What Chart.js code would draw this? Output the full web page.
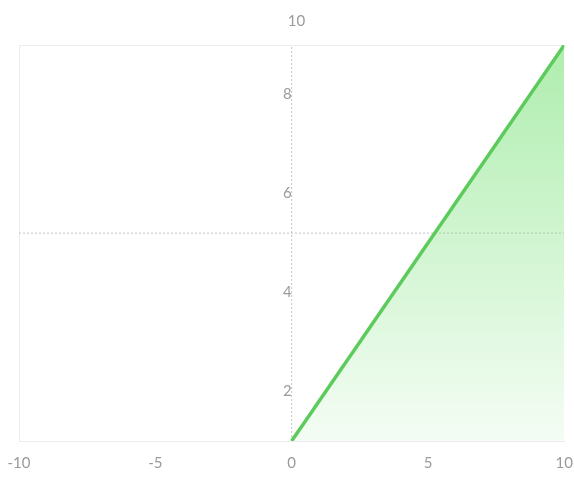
<!DOCTYPE html>
<html>
<head>
<meta charset="utf-8">
<script src="https://cdn.jsdelivr.net/npm/chart.js@4.4.1/dist/chart.umd.min.js"></script>
<style>
    html, body { margin: 0; padding: 0; background: #fff; }
    #wrap { width: 574px; height: 481px; }
</style>
</head>
<body>
<div id="wrap"><canvas id="lineChart" width="574" height="481"></canvas></div>
<script>
// chart values
const xValues = [0, 10];
const yValues = [1, 9];
const xTicks = [-10, -5, 0, 5, 10];
const yTicks = [2, 4, 6, 8];
const topLabel = '10';
// dashed guide lines
const hGuideX = [-10, 10];
const hGuideY = [5.2, 5.2];
const vGuideX = [0, 0];
const vGuideY = [1, 9];

const labelColor = '#9a9a9a';
const faint = '#ececec';
const dashColor = '#c4c4c4';

const ctx = document.getElementById('lineChart').getContext('2d');

const toPoints = (xs, ys) => xs.map((x, i) => ({ x: x, y: ys[i] }));

const fillGradient = (context) => {
    const area = context.chart.chartArea;
    if (!area) return 'rgba(120,220,120,0.3)';
    const g = context.chart.ctx.createLinearGradient(0, area.top, 0, area.bottom);
    g.addColorStop(0, 'rgba(120,225,120,0.6)');
    g.addColorStop(1, 'rgba(120,225,120,0.08)');
    return g;
};

const guide = (points) => ({
    data: points,
    borderColor: dashColor,
    borderWidth: 1,
    borderDash: [2, 2],
    pointRadius: 0,
    fill: false,
    tension: 0
});

new Chart(ctx, {
    type: 'line',
    data: {
        datasets: [{
            data: toPoints(xValues, yValues),
            borderColor: '#5ccb5c',
            borderWidth: 3.5,
            pointRadius: 0,
            fill: 'start',
            backgroundColor: fillGradient,
            tension: 0
        },
        guide(toPoints(hGuideX, hGuideY)),
        guide(toPoints(vGuideX, vGuideY))]
    },
    options: {
        responsive: false,
        animation: false,
        devicePixelRatio: 1,
        layout: { padding: { left: 19, right: 0, top: 0, bottom: 8 } },
        plugins: {
            legend: { display: false },
            tooltip: { enabled: false },
            title: {
                display: true,
                text: topLabel,
                color: labelColor,
                font: { family: 'Lato', size: 15, weight: 'normal' },
                padding: { top: 12, bottom: 7 }
            }
        },
        scales: {
            x: {
                type: 'linear',
                min: -10,
                max: 10,
                afterBuildTicks: (scale) => { scale.ticks = xTicks.map(v => ({ value: v })); },
                grid: {
                    color: (c) => (c.tick && c.tick.value === -10 ? faint : 'transparent'),
                    tickColor: 'transparent',
                    drawTicks: true,
                    tickLength: 12
                },
                border: { color: faint },
                ticks: {
                    color: labelColor,
                    font: { family: 'Lato', size: 15 },
                    padding: 1,
                    maxRotation: 0
                }
            },
            xTop: {
                type: 'linear',
                position: 'top',
                min: -10,
                max: 10,
                grid: { display: false },
                border: { color: faint },
                ticks: { display: false, padding: 0 }
            },
            y: {
                type: 'linear',
                position: { x: 0 },
                min: 1,
                max: 9,
                afterBuildTicks: (scale) => { scale.ticks = yTicks.map(v => ({ value: v })); },
                grid: { display: false },
                border: { display: false },
                ticks: {
                    color: labelColor,
                    font: { family: 'Lato', size: 15 },
                    padding: 3
                }
            }
        }
    }
});
</script>
</body>
</html>
